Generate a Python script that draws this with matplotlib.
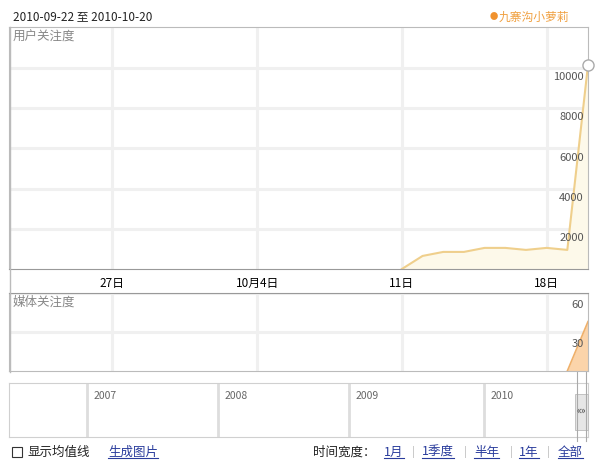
import numpy as np
import pandas as pd
import matplotlib
matplotlib.use('Agg')
import matplotlib.pyplot as plt
import matplotlib.dates as mdates
from matplotlib.patches import Rectangle
from matplotlib.lines import Line2D

plt.rcParams['font.family'] = ['Noto Sans CJK SC', 'DejaVu Sans']

W, H = 600, 469

# 数据
date_range = ['2010-09-22', '2010-10-20']
tick_dates = ['2010-09-27', '2010-10-04', '2010-10-11', '2010-10-18']
tick_labels = ['27日', '10月4日', '11日', '18日']

user_dates = ['2010-10-11', '2010-10-12', '2010-10-13', '2010-10-14', '2010-10-15',
              '2010-10-16', '2010-10-17', '2010-10-18', '2010-10-19', '2010-10-20']
user_vals = [0, 650, 850, 850, 1050, 1050, 950, 1050, 950, 10150]
user_ticks = [2000, 4000, 6000, 8000, 10000]

media_dates = ['2010-10-19', '2010-10-20']
media_vals = [0, 38]
media_ticks = [30, 60]

years = ['2007', '2008', '2009', '2010']

series_name = '九寨沟小萝莉'
title = '2010-09-22 至 2010-10-20'

# 布局 (像素)
def rect(x0, y0, x1, y1):
    return [x0 / W, 1 - y1 / H, (x1 - x0) / W, (y1 - y0) / H]

def px(x, y):
    return x / W, 1 - y / H

line_c = '#efcf8c'
grid_c = '#f0f0f0'
border_c = '#bbbbbb'

fig = plt.figure(figsize=(W / 100, H / 100), dpi=100)

xlim = mdates.date2num(pd.to_datetime(date_range))
xt = mdates.date2num(pd.to_datetime(tick_dates))

# 用户关注度
ax = fig.add_axes(rect(9, 27, 588, 269))
xu = mdates.date2num(pd.to_datetime(user_dates))
ax.fill_between(xu, user_vals, color='#fdf9ea', lw=0)
ax.plot(xu, user_vals, color=line_c, lw=1.5)
ax.plot(xu[-1], user_vals[-1], 'o', ms=8, mfc='white', mec='#aaaaaa', mew=1, clip_on=False, zorder=5)
ax.set_xlim(xlim)
ax.set_ylim(0, 12040)
ax.set_xticks(xt)
ax.set_xticklabels(tick_labels)
ax.set_yticks(user_ticks)
ax.tick_params(length=0, labelleft=False)
ax.tick_params(axis='x', pad=6, labelsize=8.5, colors='black')
ax.grid(True, color=grid_c, lw=2.2)
ax.set_axisbelow(True)
for s in ['top', 'left', 'right']:
    ax.spines[s].set_color(border_c)
ax.spines['bottom'].set_color('#999999')
for v in user_ticks:
    ax.annotate(str(v), xy=(1, v), xycoords=('axes fraction', 'data'), xytext=(-3, -3),
                textcoords='offset points', ha='right', va='top', fontsize=8, color='#555555')
ax.text(0.007, 0.985, '用户关注度', transform=ax.transAxes,
        ha='left', va='top', fontsize=9, color='#888888')

# 媒体关注度
bx = fig.add_axes(rect(9, 293, 588, 371))
xm = mdates.date2num(pd.to_datetime(media_dates))
bx.fill_between(xm, media_vals, color='#fbd4aa', lw=0)
bx.plot(xm, media_vals, color='#efb06a', lw=1.2)
bx.set_xlim(xlim)
bx.set_ylim(0, 57.75)
bx.set_xticks(xt)
bx.set_yticks(media_ticks)
bx.tick_params(length=0, labelleft=False, labelbottom=False)
bx.grid(True, color=grid_c, lw=2.2)
bx.set_axisbelow(True)
for s in bx.spines.values():
    s.set_color(border_c)
bx.spines['top'].set_color('#999999')
for v in media_ticks:
    bx.annotate(str(v), xy=(1, v), xycoords=('axes fraction', 'data'), xytext=(-3, -5),
                textcoords='offset points', ha='right', va='top', fontsize=8, color='#555555',
                annotation_clip=False)
bx.text(0.007, 0.97, '媒体关注度', transform=bx.transAxes, ha='left', va='top',
        fontsize=9, color='#888888')

# 左边框
fig.add_artist(Line2D([9.5 / W, 9.5 / W], [1 - 27 / H, 1 - 372 / H], color=border_c, lw=1))

# 时间轴导航
nx = fig.add_axes(rect(9, 383, 588, 437))
nx.set_xlim(9, 588)
nx.set_ylim(437, 383)
nx.set_xticks([])
nx.set_yticks([])
for s in nx.spines.values():
    s.set_color('#d0d0d0')
for xd, yr in zip([87, 218, 349, 484], years):
    nx.axvline(xd, color='#dddddd', lw=2)
    nx.text(xd + 7, 391, yr, ha='left', va='top', fontsize=7.5, color='#666666')

# 滑块
for xl in [577, 586]:
    fig.add_artist(Line2D([xl / W] * 2, [1 - 372 / H, 1 - 441 / H], color='#aaaaaa', lw=0.8))
fig.add_artist(Rectangle(px(575, 430), 13 / W, 36 / H, fc='#e6e6e6', ec='#bbbbbb', lw=0.6))
fig.text(*px(581.5, 411), '«»', ha='center', va='center', fontsize=7, color='#444444')

# 标题和图例
fig.text(*px(13, 17), title, ha='left', va='center', fontsize=8.5, color='#222222')
fig.text(*px(494, 17), '●', ha='center', va='center', fontsize=6, color='#f0922e')
fig.text(*px(499, 17), series_name, ha='left', va='center', fontsize=8.5, color='#f0a040')

# 底部控件
fig.add_artist(Rectangle(px(12, 457), 10 / W, 10 / H, fc='white', ec='#333333', lw=0.8))
fig.text(*px(27, 452), '显示均值线', ha='left', va='center', fontsize=9, color='#222222')

links = []
links.append(fig.text(*px(108, 452), '生成图片', ha='left', va='center', fontsize=9, color='#2a3c9c'))
fig.text(*px(313, 452), '时间宽度：', ha='left', va='center', fontsize=9, color='#222222')
for xx, lab in zip([384, 422, 474, 519, 558], ['1月', '1季度', '半年', '1年', '全部']):
    links.append(fig.text(*px(xx, 452), lab, ha='left', va='center', fontsize=9, color='#2a3c9c'))
for xx in [413, 465, 511, 548]:
    fig.text(*px(xx, 452), '|', ha='center', va='center', fontsize=8, color='#bbbbbb')

fig.canvas.draw()
r = fig.canvas.get_renderer()
for t in links:
    bb = t.get_window_extent(r)
    fig.add_artist(Line2D([bb.x0 / W, bb.x1 / W], [(bb.y0 + 1) / H] * 2, color='#2a3c9c', lw=0.8))

fig.savefig('out.png', dpi=100)
